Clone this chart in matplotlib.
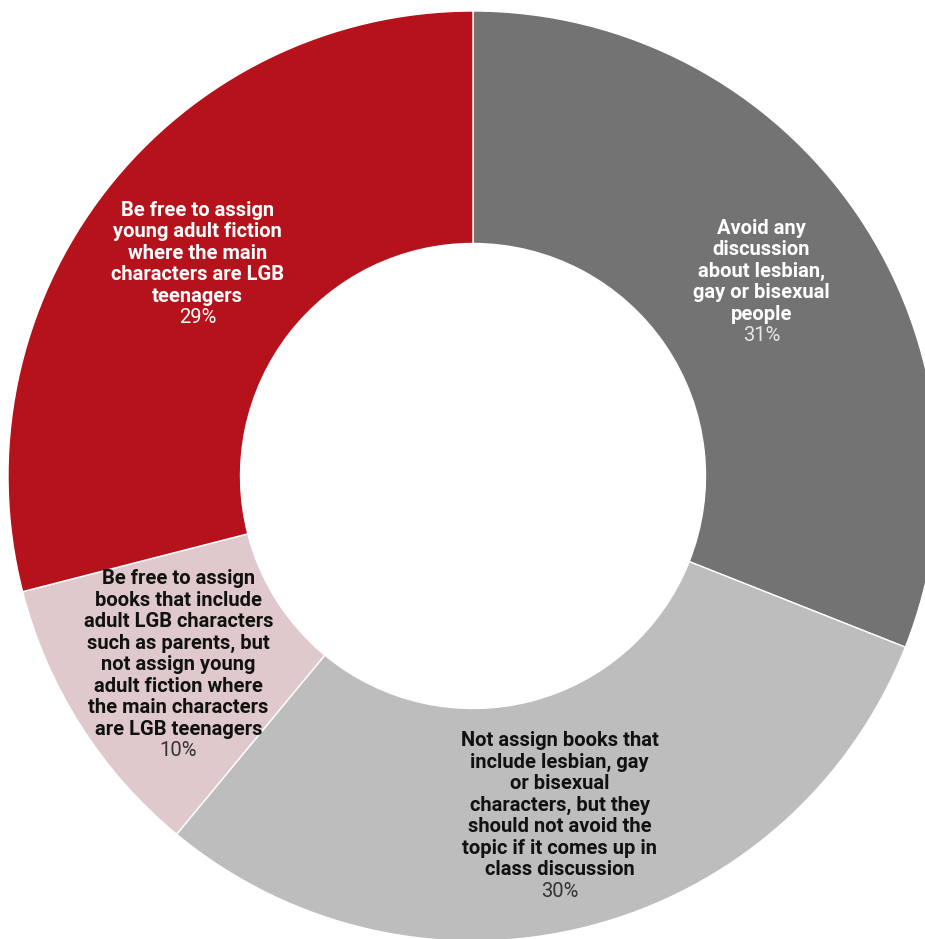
import matplotlib.pyplot as plt
import numpy as np

# survey answers, clockwise from 12 o'clock
labels = [
    "Avoid any\ndiscussion\nabout lesbian,\ngay or bisexual\npeople",
    "Not assign books that\ninclude lesbian, gay\nor bisexual\ncharacters, but they\nshould not avoid the\ntopic if it comes up in\nclass discussion",
    "Be free to assign\nbooks that include\nadult LGB characters\nsuch as parents, but\nnot assign young\nadult fiction where\nthe main characters\nare LGB teenagers",
    "Be free to assign\nyoung adult fiction\nwhere the main\ncharacters are LGB\nteenagers",
]
shares = [31, 30, 10, 29]
colors = ["#737373", "#bdbdbd", "#dfc9cd", "#b5121b"]
text_colors = ["white", "#111111", "#111111", "white"]
pct_colors = ["#e6e6e6", "#333333", "#333333", "white"]

fig = plt.figure(figsize=(9.25, 9.39), dpi=100)
ax = fig.add_axes([0, 0, 1, 1])

wedges, _ = ax.pie(shares, colors=colors, startangle=90, counterclock=False,
                   radius=1, wedgeprops=dict(width=0.5, edgecolor="white", linewidth=1))

# place the centre of the ring where the layout wants it (units = outer radius)
R = 465.0
cx, cy = 473.0, 476.0
ax.set_xlim(-cx / R, (925 - cx) / R)
ax.set_ylim(-(939 - cy) / R, cy / R)
ax.set_aspect("equal")
ax.axis("off")

line_h = 21.5 * 72 / 100.0  # line height in points
for w, lab, share, tc, pc in zip(wedges, labels, shares, text_colors, pct_colors):
    ang = np.deg2rad((w.theta1 + w.theta2) / 2)
    r = 0.75
    x, y = r * np.cos(ang), r * np.sin(ang)
    lines = lab.split("\n") + [f"{share}%"]
    n = len(lines)
    # one text per line so the bold label and the plain percent share one grid
    for k, txt in enumerate(lines):
        last = k == n - 1
        off = ((n - 1) / 2 - k) * line_h
        ax.annotate(txt, (x, y), xytext=(0, off), textcoords="offset points",
                    ha="center", va="center_baseline", fontsize=14.5,
                    fontweight="normal" if last else "bold", family="Roboto",
                    color=pc if last else tc)

fig.savefig("out.png", dpi=100, facecolor="white")
